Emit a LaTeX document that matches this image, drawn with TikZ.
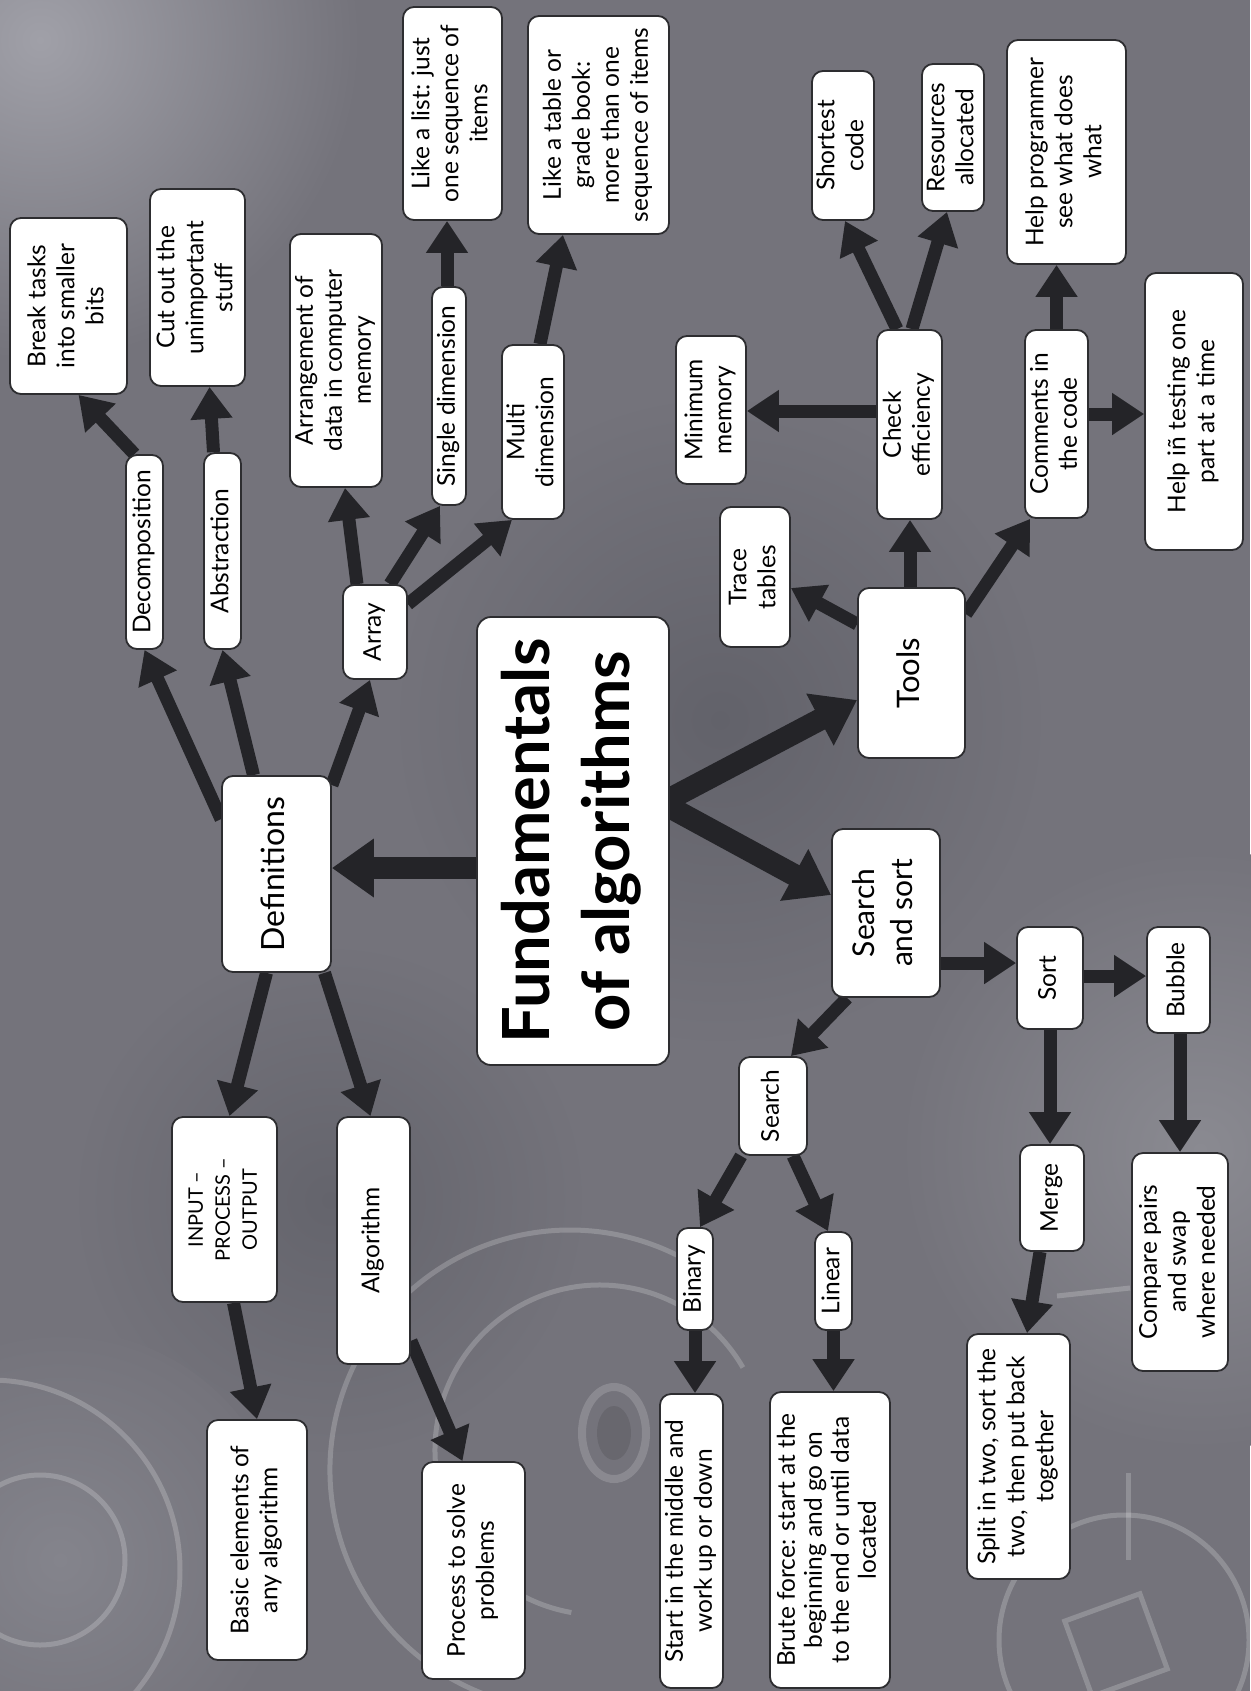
\documentclass[tikz,border=0pt]{standalone}
\usepackage{fontspec}
\setmainfont{Lato}
\usetikzlibrary{arrows.meta,calc}
\pgfdeclarelayer{bg}
\pgfdeclarelayer{arrowlayer}
\pgfsetlayers{bg,arrowlayer,main}
\definecolor{bgcol}{RGB}{116,115,123}
\definecolor{arrcol}{RGB}{36,36,40}
\definecolor{boxline}{RGB}{45,45,48}
\newcommand{\rt}[1]{\rotatebox{90}{\begin{tabular}{@{}c@{}}#1\end{tabular}}}
\begin{document}
\begin{tikzpicture}[x=1pt,y=-1pt,
  box/.style={draw=boxline,line width=1.8pt,fill=white,rounded corners=11pt,inner sep=0pt,font=\fontsize{24.5}{29}\selectfont},
  arr/.style={draw=arrcol,line width=13pt,-{Triangle[width=40pt,length=32pt]}},
  bigarr/.style={draw=arrcol,line width=22pt,-{Triangle[width=56pt,length=42pt]}},
  chalk/.style={draw=white,opacity=0.2,line width=5pt}]
\useasboundingbox (0,0) rectangle (1250,1691);
\begin{pgfonlayer}{bg}
  \fill[bgcol] (0,0) rectangle (1250,1691);
  \shade[inner color={rgb,255:red,160;green,160;blue,168}, outer color=bgcol] (40,40) circle (320);
  \shade[inner color={rgb,255:red,98;green,98;blue,106}, outer color=bgcol] (720,720) circle (330);
  \shade[inner color={rgb,255:red,100;green,100;blue,108}, outer color=bgcol] (330,1200) circle (260);
  \shade[inner color={rgb,255:red,138;green,138;blue,145}, outer color=bgcol] (1200,1150) circle (300);
  \shade[inner color={rgb,255:red,132;green,132;blue,140}, outer color=bgcol] (60,1560) circle (230);
  % faint chalk drawings
  \draw[chalk] (-10,1570) circle (190);
  \draw[chalk] (40,1560) circle (85);
  \draw[chalk] (600,1450) ++(100:165) arc (100:330:165);
  \draw[chalk] (570,1470) ++(110:240) arc (110:300:240);
  \draw[chalk,line width=8pt,opacity=0.16] (614,1433) ellipse (32 and 46);
  \fill[black,opacity=0.1] (614,1433) ellipse (17 and 27);
  \draw[chalk] (1124,1640) circle (125);
  \draw[chalk] (1128,1473) -- (1128,1560);
  \draw[chalk] (1057,1296) -- (1130,1288);
  \draw[chalk,rotate around={20:(1116,1645)}] (1076,1605) rectangle (1156,1685);
\end{pgfonlayer}

% nodes
\node[box,minimum width=117pt,minimum height=176pt] (brk) at (68.5,306) {\rt{Break tasks\\into smaller\\bits}};
\node[box,minimum width=95pt,minimum height=197pt] (cut) at (197.5,287.5) {\rt{Cut out the\\unimportant\\stuff}};
\node[box,minimum width=37pt,minimum height=194pt] (dec) at (144.5,552) {\rt{Decomposition}};
\node[box,minimum width=37pt,minimum height=196pt] (abs) at (222.5,551) {\rt{Abstraction}};
\node[box,minimum width=92pt,minimum height=253pt] (arrange) at (336,360.5) {\rt{Arrangement of\\data in computer\\memory}};
\node[box,minimum width=64pt,minimum height=94pt] (array) at (375,632) {\rt{Array}};
\node[box,minimum width=34pt,minimum height=218pt] (single) at (449,396) {\rt{Single dimension}};
\node[box,minimum width=62pt,minimum height=174pt] (multi) at (533,432) {\rt{Multi\\dimension}};
\node[box,minimum width=99pt,minimum height=213pt] (list) at (452.5,113.5) {\rt{Like a list: just\\one sequence of\\items}};
\node[box,minimum width=141pt,minimum height=218pt] (table) at (598.5,125) {\rt{Like a table or\\grade book:\\more than one\\sequence of items}};
\node[box,minimum width=109pt,minimum height=196pt,font=\fontsize{32}{38}\selectfont] (def) at (276.5,874) {\rt{Definitions}};
\node[box,minimum width=192pt,minimum height=448pt,rounded corners=14pt,font=\fontsize{65}{80}\selectfont\bfseries] (fund) at (573,841) {\rt{Fundamentals\\of algorithms}};
\node[box,minimum width=105pt,minimum height=185pt,font=\fontsize{20}{27}\selectfont] (ipo) at (224.5,1209.5) {\rt{INPUT –\\PROCESS –\\OUTPUT}};
\node[box,minimum width=73pt,minimum height=247pt] (algo) at (373.5,1240.5) {\rt{Algorithm}};
\node[box,minimum width=100pt,minimum height=240pt] (basic) at (257,1540) {\rt{Basic elements of\\any algorithm}};
\node[box,minimum width=103pt,minimum height=217pt] (proc) at (473.5,1570.5) {\rt{Process to solve\\problems}};
\node[box,minimum width=108pt,minimum height=168pt,font=\fontsize{30}{38}\selectfont] (ss) at (886,913) {\rt{Search\\and sort}};
\node[box,minimum width=68pt,minimum height=98pt] (search) at (773,1106) {\rt{Search}};
\node[box,minimum width=36pt,minimum height=102pt] (binary) at (695,1279) {\rt{Binary}};
\node[box,minimum width=37pt,minimum height=98pt] (linear) at (833.5,1281) {\rt{Linear}};
\node[box,minimum width=63pt,minimum height=294pt] (middle) at (691.5,1541) {\rt{Start in the middle and\\work up or down}};
\node[box,minimum width=120pt,minimum height=296pt,font=\fontsize{24.5}{27}\selectfont] (brute) at (830,1540) {\rt{Brute force: start at the\\beginning and go on\\to the end or until data\\located}};
\node[box,minimum width=66pt,minimum height=102pt] (sort) at (1050,978) {\rt{Sort}};
\node[box,minimum width=63pt,minimum height=106pt] (bubble) at (1178.5,980) {\rt{Bubble}};
\node[box,minimum width=64pt,minimum height=106pt] (merge) at (1052,1198) {\rt{Merge}};
\node[box,minimum width=96pt,minimum height=218pt] (compare) at (1180,1262) {\rt{Compare pairs\\and swap\\where needed}};
\node[box,minimum width=103pt,minimum height=245pt] (split) at (1018.5,1456.5) {\rt{Split in two, sort the\\two, then put back\\together}};
\node[box,minimum width=107pt,minimum height=170pt,font=\fontsize{31}{38}\selectfont] (tools) at (911.5,673) {\rt{Tools}};
\node[box,minimum width=70pt,minimum height=140pt] (trace) at (755,577) {\rt{Trace\\tables}};
\node[box,minimum width=70pt,minimum height=148pt] (minmem) at (711,410) {\rt{Minimum\\memory}};
\node[box,minimum width=65pt,minimum height=189pt] (check) at (909.5,424.5) {\rt{Check\\efficiency}};
\node[box,minimum width=62pt,minimum height=149pt] (short) at (843,145.5) {\rt{Shortest\\code}};
\node[box,minimum width=62pt,minimum height=147pt] (res) at (953,137.5) {\rt{Resources\\allocated}};
\node[box,minimum width=63pt,minimum height=188pt] (comm) at (1056.5,424) {\rt{Comments in\\the code}};
\node[box,minimum width=119pt,minimum height=224pt] (helpp) at (1066.5,152) {\rt{Help programmer\\see what does\\what}};
\node[box,minimum width=98pt,minimum height=277pt] (helpt) at (1194,411.5) {\rt{Help iñ testing one\\part at a time}};

% connectors
\begin{pgfonlayer}{arrowlayer}
  \draw[bigarr] ($(fund.west)+(8,27)$) -- ($(def.east)+(0,-6)$);
  \draw[bigarr] ($(fund.east)+(-8,-38)$) -- ($(tools.west)+(0,27)$);
  \draw[bigarr] ($(fund.east)+(-8,-38)$) -- ($(ss.west)+(0,-18)$);
  \draw[arr] ($(def.north west)+(0,44)$) -- (dec.south);
  \draw[arr] ($(def.north)+(-23,0)$) -- (abs.south);
  \draw[arr] ($(def.north east)+(0,10)$) -- ($(array.south)+(-5,0)$);
  \draw[arr] ($(def.south)+(-10,0)$) -- ($(ipo.north)+(5,0)$);
  \draw[arr] ($(def.south)+(48,0)$) -- ($(algo.north)+(-3,0)$);
  \draw[arr] ($(ipo.south)+(9,0)$) -- (basic.north);
  \draw[arr] ($(algo.south east)+(0,-24)$) -- ($(proc.north)+(-11,0)$);
  \draw[arr] ($(dec.north)+(-10,0)$) -- ($(brk.south)+(10,0)$);
  \draw[arr] ($(abs.north)+(-9,0)$) -- ($(cut.south)+(12,0)$);
  \draw[arr] ($(array.north)+(-18,0)$) -- ($(arrange.south)+(9,0)$);
  \draw[arr] ($(array.north)+(15,0)$) -- ($(single.south)+(-9,0)$);
  \draw[arr] ($(array.north east)+(0,20)$) -- ($(multi.south)+(-21,0)$);
  \draw[arr] ($(single.north)+(-2,0)$) -- ($(list.south)+(-5.5,0)$);
  \draw[arr] ($(multi.north)+(7,0)$) -- ($(table.south)+(-35.5,0)$);
  \draw[arr] ($(tools.north west)+(0,37)$) -- ($(trace.east)+(0,11)$);
  \draw[arr] ($(tools.north)+(-1.5,0)$) -- ($(check.south)+(0.5,0)$);
  \draw[arr] ($(tools.north east)+(0,27)$) -- ($(comm.south)+(-26.5,0)$);
  \draw[arr] ($(check.west)+(0,-13.5)$) -- ($(minmem.east)+(0,1)$);
  \draw[arr] ($(check.north)+(-12.5,0)$) -- ($(short.south)+(2,0)$);
  \draw[arr] ($(check.north)+(2.5,0)$) -- ($(res.south)+(-6,0)$);
  \draw[arr] (comm.north) -- ($(helpp.south)+(-10,0)$);
  \draw[arr] ($(comm.east)+(0,-10)$) -- ($(helpt.west)+(0,2.5)$);
  \draw[arr] ($(ss.east)+(0,50)$) -- ($(sort.west)+(0,-15)$);
  \draw[arr] ($(sort.east)+(0,-2)$) -- ($(bubble.west)+(0,-4)$);
  \draw[arr] ($(ss.south west)+(16,0)$) -- ($(search.north east)+(-17,0)$);
  \draw[arr] (sort.south) -- ($(merge.north)+(-2,0)$);
  \draw[arr] ($(bubble.south)+(1.5,0)$) -- (compare.north);
  \draw[arr] ($(merge.south)+(-12,0)$) -- ($(split.north)+(8.5,0)$);
  \draw[arr] ($(search.south west)+(3,0)$) -- ($(binary.north)+(5,0)$);
  \draw[arr] ($(search.south)+(20,0)$) -- ($(linear.north)+(-5.5,0)$);
  \draw[arr] (binary.south) -- ($(middle.north)+(3.5,0)$);
  \draw[arr] (linear.south) -- ($(brute.north)+(3.5,0)$);
\end{pgfonlayer}
\end{tikzpicture}
\end{document}
